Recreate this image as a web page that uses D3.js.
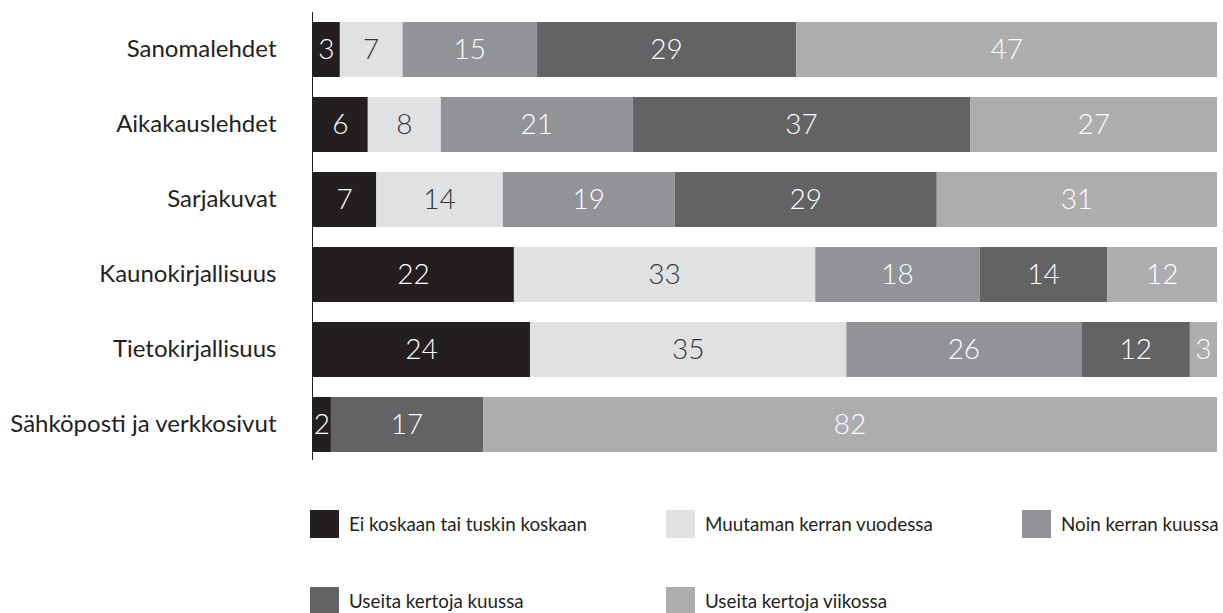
<!DOCTYPE html>
<html>
<head>
<meta charset="utf-8">
<script src="https://cdn.jsdelivr.net/npm/d3@7"></script>
<style>
  body { margin: 0; background: #fff; }
  svg { display: block; font-family: Lato, "Open Sans", sans-serif; }
</style>
</head>
<body>
<svg id="chart"></svg>
<script>
// categories (top to bottom)
var categories = ["Sanomalehdet", "Aikakauslehdet", "Sarjakuvat", "Kaunokirjallisuus", "Tietokirjallisuus", "Sähköposti ja verkkosivut"];

// series, in stacking order
var seriesNames = ["Ei koskaan tai tuskin koskaan", "Muutaman kerran vuodessa", "Noin kerran kuussa", "Useita kertoja kuussa", "Useita kertoja viikossa"];

var neverValues   = [3, 6, 7, 22, 24, 2];
var yearlyValues  = [7, 8, 14, 33, 35, 0];
var monthlyValues = [15, 21, 19, 18, 26, 0];
var severalMonth  = [29, 37, 29, 14, 12, 17];
var weeklyValues  = [47, 27, 31, 12, 3, 82];

var colors = ["#231f20", "#e0e1e3", "#929396", "#636365", "#adadb0"];
var labelColors = ["#fff", "#333", "#fff", "#fff", "#fff"];

var W = 1223, H = 613;
var margin = {top: 22, left: 313, right: 6};

// build table for d3.stack
var keys = ["s0", "s1", "s2", "s3", "s4"];
var allSeries = [neverValues, yearlyValues, monthlyValues, severalMonth, weeklyValues];
var table = categories.map(function (c, i) {
    var row = {cat: c};
    keys.forEach(function (k, j) { row[k] = allSeries[j][i]; });
    return row;
});

var stack = d3.stack().keys(keys).offset(d3.stackOffsetExpand);
var stacked = stack(table);

var svg = d3.select("#chart").attr("width", W).attr("height", H);

var x = d3.scaleLinear().domain([0, 1]).range([margin.left, W - margin.right]);
var y = d3.scaleBand().domain(categories).range([margin.top - 10, margin.top - 10 + 75 * categories.length])
    .paddingInner(20 / 75).paddingOuter(10 / 75);

// bars
var layer = svg.selectAll(".layer")
    .data(stacked)
    .enter().append("g")
    .attr("class", "layer")
    .attr("fill", function (d, i) { return colors[i]; });

layer.selectAll("rect")
    .data(function (d) { return d; })
    .enter().append("rect")
    .attr("x", function (d) { return x(d[0]); })
    .attr("y", function (d) { return y(d.data.cat); })
    .attr("width", function (d) { return x(d[1]) - x(d[0]); })
    .attr("height", y.bandwidth());

// value labels
stacked.forEach(function (s, i) {
    svg.append("g").selectAll("text")
        .data(s.filter(function (d) { return d.data[s.key] > 0; }))
        .enter().append("text")
        .attr("x", function (d) { return (x(d[0]) + x(d[1])) / 2; })
        .attr("y", function (d) { return y(d.data.cat) + y.bandwidth() / 2; })
        .attr("dy", "0.34em")
        .attr("text-anchor", "middle")
        .attr("fill", labelColors[i])
        .style("font-size", "28px")
        .style("font-weight", 300)
        .text(function (d) { return d.data[s.key]; });
});

// y axis
var yAxis = svg.append("g")
    .attr("transform", "translate(" + (margin.left - 0.5) + ",0)")
    .call(d3.axisLeft(y).tickSize(0).tickPadding(36));
yAxis.select(".domain").attr("stroke", "#231f20").attr("d", "M0,12V460");
yAxis.selectAll("text")
    .style("font-size", "24px")
    .style("font-family", "Lato, sans-serif")
    .attr("fill", "#231f20");

// legend
var legend = svg.selectAll(".legend")
    .data(seriesNames)
    .enter().append("g")
    .attr("class", "legend")
    .attr("transform", function (d, i) {
        return "translate(" + (310 + (i % 3) * 356) + "," + (510 + Math.floor(i / 3) * 77) + ")";
    });
legend.append("rect")
    .attr("width", 29).attr("height", 28)
    .attr("fill", function (d, i) { return colors[i]; });
legend.append("text")
    .attr("x", 39).attr("y", 14).attr("dy", "0.36em")
    .style("font-size", "18.8px")
    .attr("fill", "#231f20")
    .text(function (d) { return d; });
</script>
</body>
</html>
